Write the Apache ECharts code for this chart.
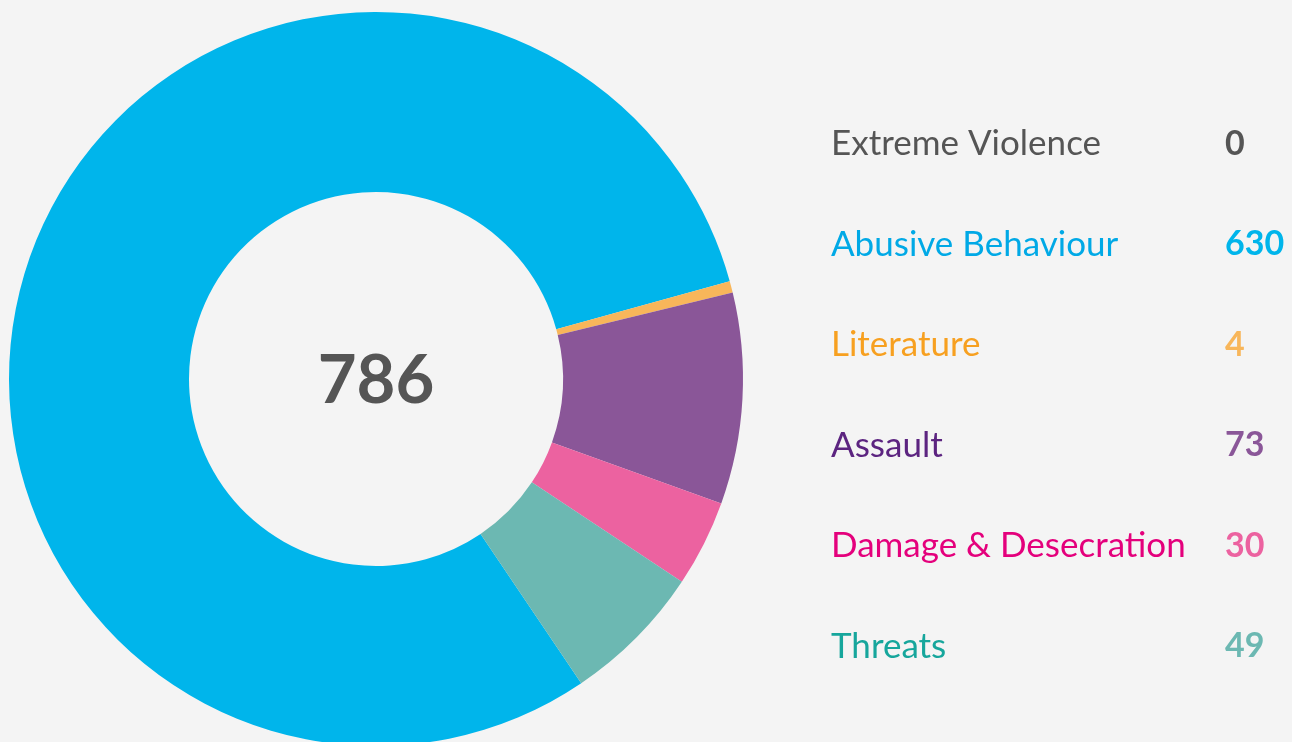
<!DOCTYPE html>
<html><head><meta charset="utf-8">
<script src="https://cdn.jsdelivr.net/npm/echarts@6/dist/echarts.min.js"></script>
<style>html,body{margin:0;padding:0;background:#f4f4f4;}#c{width:1292px;height:742px;}</style>
</head><body><div id="c"></div>
<script>
const categories = ["Extreme Violence","Abusive Behaviour","Literature","Assault","Damage & Desecration","Threats"];
const values = [0,630,4,73,30,49];
const sliceColors = ["#555555","#00b5eb","#f8b65a","#8a5698","#ec62a0","#6cb8b2"];
const nameColors = ["#555555","#00a9e6","#f7a020","#5c2480","#e4007c","#16a69c"];
const total = values.reduce((a,b)=>a+b,0);

const rich = {};
categories.forEach((c,i)=>{
  rich['n'+i] = {color:nameColors[i], fontSize:35, fontFamily:'Lato', width:394, lineHeight:40};
  rich['v'+i] = {color:sliceColors[i], fontSize:34, fontFamily:'Lato', fontWeight:'bold', lineHeight:40};
});

const chart = echarts.init(document.getElementById('c'));
chart.setOption({
  backgroundColor:'#f4f4f4',
  animation:false,
  legend:{
    orient:'vertical', left:821, top:119, icon:'none', itemWidth:0, itemHeight:0, itemGap:60.5,
    selectedMode:false,
    data:categories,
    formatter:function(name){const i=categories.indexOf(name);return '{n'+i+'|'+name+'}{v'+i+'|'+values[i]+'}';},
    textStyle:{rich:rich, lineHeight:40}
  },
  graphic:[{type:'text', x:376, y:381, style:{text:String(total), textAlign:'center', textVerticalAlign:'middle', font:'bold 67px Lato', fill:'#555555'}}],
  series:[{
    type:'pie', center:[376,379], radius:[187,367], startAngle:304, clockwise:true,
    label:{show:false}, labelLine:{show:false}, silent:true, minAngle:0,
    itemStyle:{borderWidth:0},
    data:categories.map((c,i)=>({name:c, value:values[i], itemStyle:{color:sliceColors[i]}}))
  }]
});
</script></body></html>
